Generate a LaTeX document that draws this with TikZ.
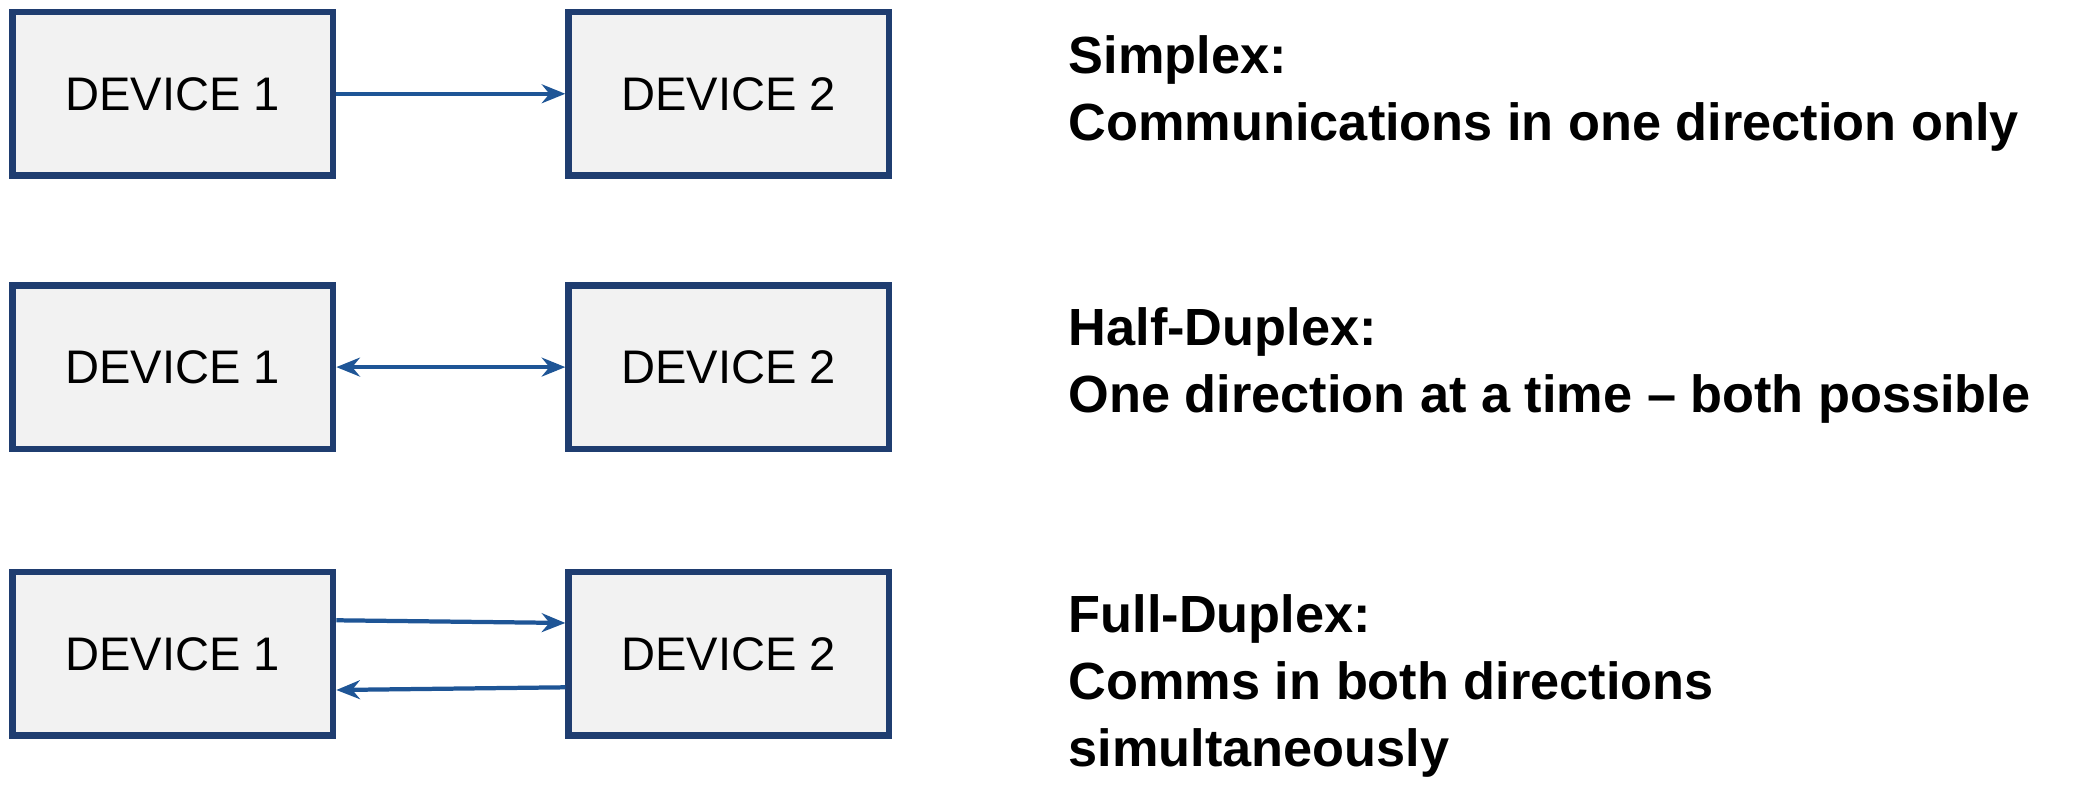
\documentclass[tikz,border=0pt]{standalone}
\usepackage{fontspec}
\setmainfont{Liberation Sans}
\usetikzlibrary{arrows.meta}
\definecolor{boxline}{RGB}{31,61,112}
\definecolor{arr}{RGB}{30,85,150}
\begin{document}
\begin{tikzpicture}[x=0.01cm,y=-0.01cm,
  dev/.style={draw=boxline,line width=1.4pt,fill=black!5,minimum width=2.39cm,minimum height=1.22cm,font=\fontsize{10}{12}\selectfont,inner sep=0},
  con/.style={draw=arr,line width=0.9pt,-{Stealth[length=5pt,width=4pt]}},
  lab/.style={anchor=west,align=left,font=\bfseries\fontsize{11.1}{14.2}\selectfont,inner sep=0}]
\useasboundingbox (0,0) rectangle (1560,597);
\node[dev] (a1) at (129,70) {DEVICE 1};
\node[dev] (b1) at (544,70) {DEVICE 2};
\node[dev] (a2) at (129,274) {DEVICE 1};
\node[dev] (b2) at (544,274) {DEVICE 2};
\node[dev] (a3) at (129,488) {DEVICE 1};
\node[dev] (b3) at (544,488) {DEVICE 2};
\draw[con] (a1.east) -- (b1.west);
\draw[con,{Stealth[length=5pt,width=4pt]}-{Stealth[length=5pt,width=4pt]}] (a2.east) -- (b2.west);
\draw[con] ([yshift=0.25cm]a3.east) -- ([yshift=0.23cm]b3.west);
\draw[con] ([yshift=-0.25cm]b3.west) -- ([yshift=-0.27cm]a3.east);
\node[lab] (t1) at (797,70) {Simplex:\\Communications in one direction only};
\node[lab] (t2) at (797,273) {Half-Duplex:\\One direction at a time -- both possible};
\node[lab] (t3) at (797,512) {Full-Duplex:\\Comms in both directions\\simultaneously};
\end{tikzpicture}
\end{document}
